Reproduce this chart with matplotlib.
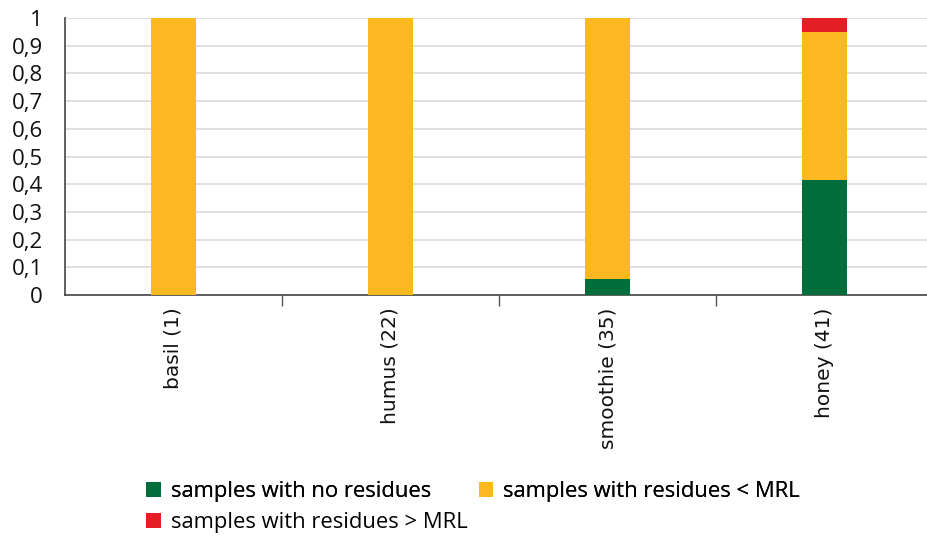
import numpy as np
import matplotlib.pyplot as plt
from matplotlib.ticker import FixedLocator, FuncFormatter

plt.rcParams['font.family'] = ['Open Sans', 'DejaVu Sans']

categories = ['basil (1)', 'humus (22)', 'smoothie (35)', 'honey (41)']
no_residues = [0.0, 0.0, 2 / 35, 17 / 41]
below_mrl = [1.0, 1.0, 33 / 35, 22 / 41]
above_mrl = [0.0, 0.0, 0.0, 2 / 41]

labels = ['samples with no residues', 'samples with residues < MRL',
          'samples with residues > MRL']
colors = ['#006E3B', '#FBB820', '#E31E24']

fig = plt.figure(figsize=(9.27, 5.43), dpi=100)
ax = fig.add_axes([0.0701, 0.4567, 0.9364, 0.5101])

x = np.arange(len(categories))
width = 0.21
bottom = np.zeros(len(categories))
handles = []
for vals, col, lab in zip([no_residues, below_mrl, above_mrl], colors, labels):
    b = ax.bar(x, vals, width, bottom=bottom, color=col, label=lab, zorder=3)
    handles.append(b)
    bottom += np.array(vals)

def fmt(v, pos):
    if abs(v) < 1e-9:
        return '0'
    if abs(v - 1) < 1e-9:
        return '1'
    return f'{v:.1f}'.replace('.', ',')

ax.set_xlim(-0.5, len(categories) - 0.5)
ax.set_ylim(0, 1)
ax.set_yticks(np.arange(0, 1.01, 0.1))
ax.yaxis.set_major_formatter(FuncFormatter(fmt))
ax.yaxis.grid(True, color='#d9d9d9', linewidth=1.2, zorder=0)
ax.tick_params(axis='y', length=0, labelsize=16, pad=16, labelcolor='#111111')

ax.xaxis.set_major_locator(FixedLocator(x))
ax.set_xticklabels(categories, rotation=90, fontsize=14.5, color='#111111',
                   family='DejaVu Sans')
ax.xaxis.set_minor_locator(FixedLocator(np.arange(0.5, len(categories) - 0.5, 1)))
ax.tick_params(axis='x', which='major', length=0, pad=9)
ax.tick_params(axis='x', which='minor', length=8, width=1, color='#555555', direction='out')

for s in ['top', 'right']:
    ax.spines[s].set_visible(False)
for s in ['left', 'bottom']:
    ax.spines[s].set_color('#444444')
    ax.spines[s].set_linewidth(1.2)

# legend laid out in rows: two entries on the first line, one on the second
leg_kw = dict(loc='upper left', frameon=False, fontsize=15.8,
              handlelength=0.65, handleheight=0.65, handletextpad=0.45,
              borderaxespad=0, borderpad=0)
leg1 = fig.legend(handles=handles[:2], labels=labels[:2], ncol=2,
                  bbox_to_anchor=(0.158, 0.114), columnspacing=2.2, **leg_kw)
fig.add_artist(leg1)
fig.legend(handles=handles[2:], labels=labels[2:], ncol=1,
           bbox_to_anchor=(0.158, 0.057), **leg_kw)

fig.savefig('out.png', dpi=100)
